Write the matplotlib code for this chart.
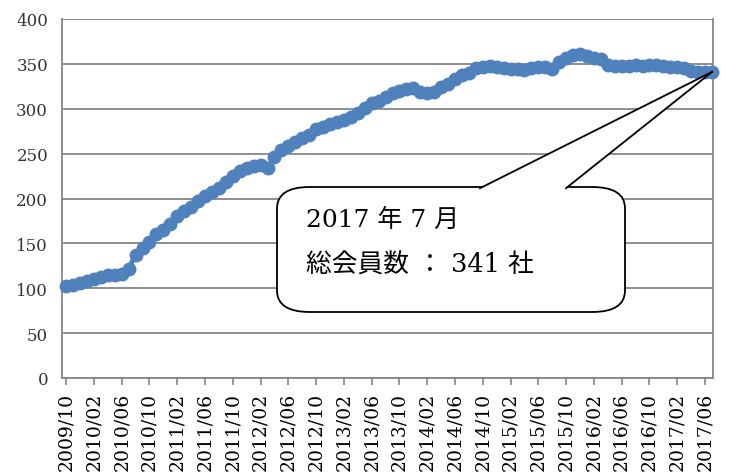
import matplotlib
matplotlib.use("Agg")
from matplotlib import pyplot as plt
from matplotlib.patches import FancyBboxPatch, Polygon
from matplotlib.lines import Line2D

# monthly member count, 2009/10 .. 2017/07
members = [102, 104, 106, 108, 110, 112, 115, 115, 116, 122,
           137, 145, 152, 160, 165, 172, 180, 186, 191, 197,
           203, 207, 212, 218, 225, 231, 234, 236, 237, 234,
           246, 254, 258, 263, 267, 271, 277, 280, 283, 285,
           288, 291, 295, 301, 306, 309, 313, 317, 320, 322,
           323, 319, 318, 319, 324, 328, 333, 338, 340, 345,
           347, 348, 346, 345, 344, 344, 343, 345, 347, 346,
           344, 352, 357, 360, 361, 359, 357, 355, 349, 348,
           348, 348, 349, 348, 349, 349, 348, 347, 347, 345,
           342, 341, 341, 341]

tick_labels = ["2009/10", "2010/02", "2010/06", "2010/10", "2011/02", "2011/06",
               "2011/10", "2012/02", "2012/06", "2012/10", "2013/02", "2013/06",
               "2013/10", "2014/02", "2014/06", "2014/10", "2015/02", "2015/06",
               "2015/10", "2016/02", "2016/06", "2016/10", "2017/02", "2017/06"]

callout_line1 = "2017 年 7 月"
callout_line2 = "総会員数 ： 341 社"

FONT = ["DejaVu Serif", "Noto Sans CJK JP"]
GRID = "#868686"
BLUE = "#4F81BD"


def main():
    plt.rcParams["font.family"] = FONT
    fig = plt.figure(figsize=(7.29, 4.77), dpi=100)
    ax = fig.add_axes([62 / 729, 98 / 477, 651 / 729, 359 / 477])

    x = list(range(len(members)))
    ax.plot(x, members, color=BLUE, lw=3.5, marker="o", markersize=9,
            markeredgecolor=BLUE, zorder=3, clip_on=False)

    ax.set_xlim(-0.6, 93.15)
    ax.set_ylim(0, 400)
    ax.set_yticks(range(0, 401, 50))
    ax.set_xticks(range(0, len(members), 4))
    ax.set_xticklabels(tick_labels, rotation=90)

    ax.grid(axis="y", color=GRID, lw=1.3, zorder=0)
    ax.tick_params(axis="y", length=0, pad=10, labelsize=12, colors="#333333")
    ax.tick_params(axis="x", length=5, width=1.2, color=GRID, pad=5,
                   labelsize=13.5, labelcolor="black")
    for side in ["left", "right", "bottom"]:
        ax.spines[side].set_color(GRID)
        ax.spines[side].set_linewidth(1.3)
    ax.spines["top"].set_visible(False)

    # speech bubble pointing at the last point
    W, H = 729, 477
    bx0, bx1, by_top, by_bot = 277, 625, 188, 313
    box = FancyBboxPatch((bx0 / W, 1 - by_bot / H), (bx1 - bx0) / W, (by_bot - by_top) / H,
                         boxstyle="round,pad=0,rounding_size=0.045",
                         transform=fig.transFigure, facecolor="white",
                         edgecolor="black", lw=1.3, zorder=5)
    fig.add_artist(box)

    fig.canvas.draw()
    tip = ax.transData.transform((x[-1], members[-1]))
    tip = fig.transFigure.inverted().transform(tip)
    b1 = (480 / W, 1 - (by_top + 2) / H)
    b2 = (566 / W, 1 - (by_top + 2) / H)
    wedge = Polygon([b1, tip, b2], closed=True, transform=fig.transFigure,
                    facecolor="white", edgecolor="none", zorder=6)
    fig.add_artist(wedge)
    for b in (b1, b2):
        fig.add_artist(Line2D([b[0], tip[0]], [b[1] + 0.8 / H, tip[1]],
                              transform=fig.transFigure, color="black",
                              lw=1.3, zorder=7))

    fig.text(306 / W, 1 - 227 / H, callout_line1, fontsize=18, va="baseline",
             ha="left", zorder=8, family=FONT)
    fig.text(306 / W, 1 - 273 / H, callout_line2, fontsize=18.5, va="baseline",
             ha="left", zorder=8, family=FONT)

    fig.savefig("out.png", dpi=100)


if __name__ == "__main__":
    main()
